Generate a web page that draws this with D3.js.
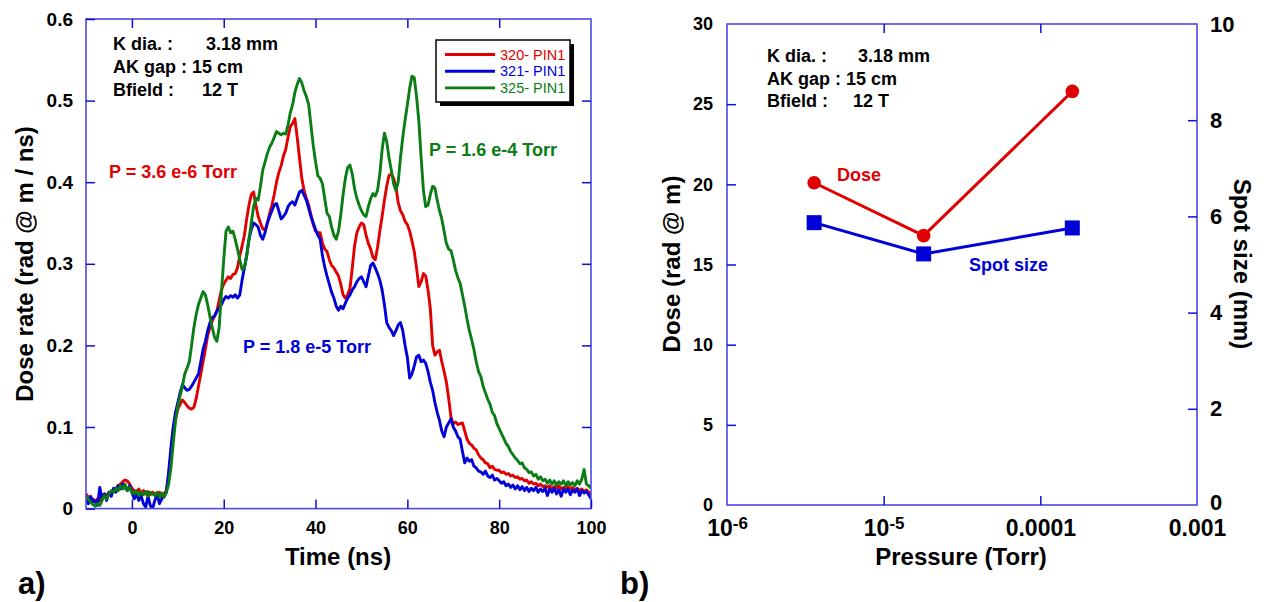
<!DOCTYPE html>
<html>
<head>
<meta charset="utf-8">
<script src="https://cdn.jsdelivr.net/npm/d3@7"></script>
<style>
  body { margin: 0; background: #fff; }
  svg { font-family: "Liberation Sans", Arial, Helvetica, sans-serif; }
</style>
</head>
<body>
<div id="chart"></div>
<script>
// ---- panel a) : PIN diode dose rate traces ----
const timeNs = d3.range(-10, 100.001, 0.5);

const pin320 = [
  0.018,0.014,0.010,0.012,0.008,0.012,0.010,0.015,0.018,0.016,
  0.020,0.018,0.022,0.025,0.028,0.030,0.033,0.035,0.034,0.030,
  0.025,0.022,0.020,0.024,0.019,0.022,0.018,0.021,0.017,0.020,
  0.018,0.016,0.020,0.015,0.018,0.022,0.040,0.065,0.090,0.110,
  0.122,0.128,0.133,0.130,0.126,0.123,0.122,0.124,0.135,0.150,
  0.165,0.180,0.195,0.212,0.222,0.230,0.236,0.242,0.255,0.268,
  0.275,0.280,0.284,0.282,0.287,0.288,0.295,0.310,0.322,0.335,
  0.355,0.372,0.385,0.388,0.372,0.358,0.350,0.343,0.341,0.350,
  0.362,0.372,0.385,0.400,0.412,0.420,0.432,0.440,0.455,0.468,
  0.472,0.478,0.455,0.430,0.405,0.390,0.380,0.372,0.360,0.348,
  0.340,0.338,0.338,0.325,0.318,0.315,0.305,0.298,0.295,0.290,
  0.285,0.275,0.262,0.258,0.262,0.270,0.295,0.322,0.338,0.345,
  0.350,0.348,0.335,0.325,0.318,0.308,0.305,0.320,0.340,0.358,
  0.378,0.395,0.408,0.410,0.405,0.395,0.375,0.365,0.360,0.352,
  0.348,0.340,0.328,0.315,0.295,0.272,0.278,0.288,0.285,0.268,
  0.245,0.200,0.188,0.192,0.194,0.180,0.168,0.155,0.135,0.112,
  0.104,0.106,0.103,0.104,0.105,0.095,0.085,0.080,0.078,0.074,
  0.072,0.066,0.062,0.060,0.056,0.055,0.050,0.052,0.048,0.047,
  0.047,0.044,0.045,0.042,0.043,0.040,0.041,0.038,0.039,0.036,
  0.037,0.034,0.035,0.031,0.033,0.030,0.031,0.028,0.030,0.027,
  0.028,0.026,0.028,0.024,0.027,0.025,0.028,0.024,0.026,0.025,
  0.027,0.024,0.026,0.023,0.025,0.022,0.024,0.021,0.023,0.020,
  0.018
];

const pin321 = [
  0.012,0.006,0.015,0.008,0.010,0.004,0.026,0.012,0.018,0.010,
  0.020,0.015,0.025,0.020,0.028,0.024,0.030,0.026,0.022,0.028,
  0.020,0.012,0.018,0.010,0.016,0.006,0.002,0.015,0.004,0.000,
  0.010,0.018,0.006,0.012,0.015,0.020,0.045,0.075,0.100,0.118,
  0.130,0.142,0.152,0.148,0.145,0.146,0.150,0.155,0.160,0.165,
  0.180,0.195,0.205,0.218,0.228,0.234,0.236,0.242,0.246,0.250,
  0.256,0.260,0.258,0.261,0.259,0.262,0.258,0.262,0.280,0.295,
  0.310,0.330,0.342,0.350,0.348,0.345,0.335,0.330,0.338,0.350,
  0.358,0.365,0.372,0.374,0.365,0.355,0.358,0.362,0.370,0.374,
  0.376,0.372,0.380,0.388,0.390,0.384,0.378,0.368,0.358,0.350,
  0.342,0.335,0.330,0.310,0.296,0.285,0.275,0.265,0.258,0.248,
  0.243,0.248,0.245,0.252,0.258,0.262,0.268,0.272,0.278,0.282,
  0.284,0.278,0.272,0.285,0.298,0.301,0.295,0.288,0.280,0.268,
  0.250,0.228,0.222,0.218,0.212,0.218,0.225,0.228,0.218,0.200,
  0.185,0.160,0.165,0.175,0.186,0.188,0.180,0.182,0.178,0.168,
  0.155,0.145,0.130,0.118,0.108,0.095,0.088,0.100,0.105,0.110,
  0.100,0.095,0.088,0.085,0.070,0.056,0.062,0.058,0.060,0.052,
  0.050,0.046,0.045,0.042,0.046,0.040,0.038,0.041,0.035,0.037,
  0.034,0.031,0.033,0.028,0.030,0.026,0.029,0.024,0.028,0.023,
  0.027,0.022,0.026,0.021,0.025,0.022,0.026,0.020,0.024,0.021,
  0.025,0.016,0.024,0.020,0.025,0.018,0.023,0.015,0.024,0.020,
  0.024,0.017,0.023,0.020,0.024,0.016,0.022,0.019,0.021,0.017,
  0.012
];

const pin325 = [
  0.015,0.012,0.008,0.005,0.003,0.006,0.004,0.010,0.016,0.012,
  0.018,0.022,0.020,0.025,0.022,0.028,0.024,0.030,0.022,0.026,
  0.020,0.018,0.022,0.016,0.020,0.017,0.021,0.015,0.020,0.018,
  0.016,0.020,0.014,0.019,0.014,0.020,0.030,0.050,0.080,0.108,
  0.125,0.138,0.150,0.165,0.172,0.180,0.200,0.222,0.238,0.250,
  0.258,0.266,0.262,0.250,0.235,0.222,0.210,0.205,0.222,0.265,
  0.305,0.340,0.345,0.338,0.340,0.330,0.318,0.305,0.293,0.295,
  0.310,0.330,0.350,0.370,0.380,0.378,0.395,0.415,0.425,0.435,
  0.443,0.448,0.455,0.462,0.460,0.458,0.460,0.459,0.470,0.485,
  0.495,0.510,0.520,0.527,0.522,0.512,0.505,0.495,0.470,0.445,
  0.425,0.408,0.405,0.398,0.380,0.362,0.358,0.345,0.335,0.330,
  0.340,0.360,0.385,0.405,0.418,0.421,0.410,0.392,0.380,0.372,
  0.365,0.360,0.358,0.370,0.380,0.386,0.383,0.390,0.410,0.440,
  0.460,0.450,0.430,0.415,0.398,0.390,0.400,0.430,0.455,0.476,
  0.495,0.515,0.530,0.528,0.505,0.475,0.430,0.390,0.370,0.372,
  0.385,0.395,0.393,0.378,0.365,0.355,0.340,0.325,0.318,0.316,
  0.305,0.292,0.283,0.276,0.262,0.248,0.232,0.218,0.207,0.195,
  0.180,0.168,0.162,0.150,0.142,0.134,0.128,0.118,0.114,0.104,
  0.098,0.092,0.086,0.080,0.076,0.070,0.066,0.062,0.059,0.055,
  0.056,0.050,0.048,0.044,0.045,0.040,0.042,0.036,0.039,0.034,
  0.036,0.031,0.035,0.030,0.034,0.029,0.033,0.030,0.034,0.028,
  0.033,0.029,0.032,0.028,0.034,0.030,0.036,0.048,0.030,0.028,
  0.025
];

const shotNames = ["320- PIN1", "321- PIN1", "325- PIN1"];
const shotColors = ["#e00000", "#0000d8", "#0a7d14"];
const shotPressures = ["P = 3.6 e-6 Torr", "P = 1.8 e-5 Torr", "P = 1.6 e-4 Torr"];
const timeTicks = [0, 20, 40, 60, 80, 100];
const rateTicks = [0, 0.1, 0.2, 0.3, 0.4, 0.5, 0.6];

// ---- panel b) : dose and spot size vs pressure ----
const pressureTorr = [3.6e-6, 1.8e-5, 1.6e-4];
const doseRadM = [20.1, 16.8, 25.8];
const spotSizeMm = [5.87, 5.22, 5.76];
const pressureTicks = [1e-6, 1e-5, 1e-4, 1e-3];
const pressureTickLabels = [["10", "-6"], ["10", "-5"], ["0.0001"], ["0.001"]];
const doseTicks = [0, 5, 10, 15, 20, 25, 30];
const spotTicks = [0, 2, 4, 6, 8, 10];

const setupLines = [["K dia. :", "3.18 mm"], ["AK gap : 15 cm", ""], ["Bfield :", "12 T"]];

const W = 1268, H = 602;
const frameColor = "#4a4ae6";

const svg = d3.select("#chart").append("svg")
  .attr("width", W).attr("height", H);

// helper: inward ticks, no domain line
function styleAxis(g) {
  g.select(".domain").remove();
  g.selectAll(".tick line").attr("stroke", "#1010d0").attr("stroke-width", 1.5);
  g.selectAll(".tick text")
    .attr("fill", "#000")
    .style("font-weight", "bold");
}

// ================= panel a =================
const a = { left: 86, right: 591, top: 19, bottom: 508.6 };
const x = d3.scaleLinear().domain([-10, 100]).range([a.left, a.right]);
const y = d3.scaleLinear().domain([0, 0.6]).range([a.bottom, a.top]);

svg.append("defs").append("clipPath").attr("id", "clipA")
  .append("rect").attr("x", a.left).attr("y", a.top)
  .attr("width", a.right - a.left).attr("height", a.bottom - a.top);

const gA = svg.append("g");

// traces
const series = [pin320, pin321, pin325];
const line = d3.line()
  .x((d, i) => x(timeNs[i]))
  .y(d => y(d));

gA.append("g").attr("clip-path", "url(#clipA)")
  .selectAll("path")
  .data(series)
  .join("path")
  .attr("d", d => line(d))
  .attr("fill", "none")
  .attr("stroke", (d, i) => shotColors[i])
  .attr("stroke-width", 2.9)
  .attr("stroke-linejoin", "round");

// frame
gA.append("rect")
  .attr("x", a.left).attr("y", a.top)
  .attr("width", a.right - a.left).attr("height", a.bottom - a.top)
  .attr("fill", "none").attr("stroke", frameColor).attr("stroke-width", 1.6);

gA.append("g").attr("transform", `translate(0,${a.bottom})`)
  .call(d3.axisBottom(x).tickValues(timeTicks).tickSize(-9).tickPadding(13).tickFormat(d3.format("d")))
  .call(styleAxis)
  .call(g => g.selectAll("text").style("font-size", "18px"));
gA.append("g").attr("transform", `translate(0,${a.top})`)
  .call(d3.axisTop(x).tickValues(timeTicks.slice(0, -1)).tickSize(-9).tickFormat(""))
  .call(styleAxis);
gA.append("g").attr("transform", `translate(${a.left},0)`)
  .call(d3.axisLeft(y).tickValues(rateTicks).tickSize(-9).tickPadding(13).tickFormat(d => d === 0 ? "0" : d3.format(".1f")(d)))
  .call(styleAxis)
  .call(g => g.selectAll("text").style("font-size", "19px"));
gA.append("g").attr("transform", `translate(${a.right},0)`)
  .call(d3.axisRight(y).tickValues(rateTicks.slice(1, -1)).tickSize(-9).tickFormat(""))
  .call(styleAxis);

// axis titles
gA.append("text")
  .attr("x", 338).attr("y", 565)
  .attr("text-anchor", "middle")
  .style("font-size", "24px").style("font-weight", "bold")
  .text("Time (ns)");
gA.append("text")
  .attr("transform", "translate(33,264) rotate(-90)")
  .attr("text-anchor", "middle")
  .style("font-size", "24px").style("font-weight", "bold")
  .text("Dose rate (rad @ m / ns)");

// setup text
setupLines.forEach((row, i) => {
  gA.append("text").attr("x", 113).attr("y", 50 + i * 23)
    .style("font-size", "18px").style("font-weight", "bold").text(row[0]);
  if (row[1]) {
    gA.append("text").attr("x", i === 0 ? 206 : 202).attr("y", 50 + i * 23)
      .style("font-size", "18px").style("font-weight", "bold").text(row[1]);
  }
});

// pressure annotations
const annPos = [[109, 178], [243, 353], [429, 156]];
shotPressures.forEach((t, i) => {
  gA.append("text").attr("x", annPos[i][0]).attr("y", annPos[i][1])
    .attr("fill", shotColors[i])
    .style("font-size", "18px").style("font-weight", "bold")
    .text(t);
});

// legend
const lg = gA.append("g").attr("transform", "translate(436,40)");
lg.append("rect").attr("x", 4).attr("y", 4).attr("width", 134).attr("height", 62).attr("fill", "#000");
lg.append("rect").attr("width", 134).attr("height", 62)
  .attr("fill", "#fff").attr("stroke", "#000").attr("stroke-width", 1.5);
shotNames.forEach((n, i) => {
  const yy = 14.5 + i * 16.7;
  lg.append("line").attr("x1", 9).attr("x2", 59).attr("y1", yy).attr("y2", yy)
    .attr("stroke", shotColors[i]).attr("stroke-width", 2.9);
  lg.append("text").attr("x", 64).attr("y", yy + 5)
    .attr("fill", shotColors[i]).style("font-size", "14.5px")
    .text(n);
});

svg.append("text").attr("x", 18).attr("y", 594)
  .style("font-size", "31px").style("font-weight", "bold").text("a)");

// ================= panel b =================
const b = { left: 727, right: 1197, top: 24, bottom: 505 };
const px = d3.scaleLog().domain([1e-6, 1e-3]).range([b.left, b.right]);
const yDose = d3.scaleLinear().domain([0, 30]).range([b.bottom, b.top]);
const ySpot = d3.scaleLinear().domain([0, 10]).range([b.bottom, b.top]);

const gB = svg.append("g");

gB.append("rect")
  .attr("x", b.left).attr("y", b.top)
  .attr("width", b.right - b.left).attr("height", b.bottom - b.top)
  .attr("fill", "none").attr("stroke", frameColor).attr("stroke-width", 1.6);

const xb = gB.append("g").attr("transform", `translate(0,${b.bottom})`)
  .call(d3.axisBottom(px).tickValues(pressureTicks).tickSize(-9).tickPadding(15).tickFormat(""))
  .call(styleAxis);
xb.selectAll(".tick").filter((d, i) => i === 0 || i === 3).select("line").remove();
xb.selectAll(".tick text").each(function (d, i) {
  const t = d3.select(this).style("font-size", "23px");
  const lab = pressureTickLabels[i];
  t.append("tspan").text(lab[0]);
  if (lab[1]) t.append("tspan").attr("dy", "-0.45em").style("font-size", "17px").text(lab[1]);
});

gB.append("g").attr("transform", `translate(0,${b.top})`)
  .call(d3.axisTop(px).tickValues(pressureTicks.slice(1, 3)).tickSize(-9).tickFormat(""))
  .call(styleAxis);
gB.append("g").attr("transform", `translate(${b.left},0)`)
  .call(d3.axisLeft(yDose).tickValues(doseTicks).tickSize(-9).tickPadding(14))
  .call(styleAxis)
  .call(g => g.selectAll("text").style("font-size", "18px"))
  .call(g => g.selectAll(".tick").filter(d => d === 0 || d === 30).select("line").remove());
gB.append("g").attr("transform", `translate(${b.right},0)`)
  .call(d3.axisRight(ySpot).tickValues(spotTicks).tickSize(-9).tickPadding(13))
  .call(styleAxis)
  .call(g => g.selectAll("text").style("font-size", "22px"))
  .call(g => g.selectAll(".tick").filter(d => d === 0 || d === 10).select("line").remove())
  .call(g => g.selectAll(".tick").filter(d => d === 0).select("text").attr("dy", "0.2em"));

// dose series
const doseLine = d3.line().x((d, i) => px(pressureTorr[i])).y(d => yDose(d));
gB.append("path").attr("d", doseLine(doseRadM))
  .attr("fill", "none").attr("stroke", "#e00000").attr("stroke-width", 3);
gB.selectAll(".dosePt").data(doseRadM).join("circle")
  .attr("cx", (d, i) => px(pressureTorr[i])).attr("cy", d => yDose(d))
  .attr("r", 6.8).attr("fill", "#e00000");

// spot size series
const spotLine = d3.line().x((d, i) => px(pressureTorr[i])).y(d => ySpot(d));
gB.append("path").attr("d", spotLine(spotSizeMm))
  .attr("fill", "none").attr("stroke", "#0000d8").attr("stroke-width", 3);
gB.selectAll(".spotPt").data(spotSizeMm).join("rect")
  .attr("x", (d, i) => px(pressureTorr[i]) - 7.5).attr("y", d => ySpot(d) - 7.5)
  .attr("width", 15).attr("height", 15).attr("fill", "#0000d8");

gB.append("text").attr("x", 837).attr("y", 181).attr("fill", "#e00000")
  .style("font-size", "18px").style("font-weight", "bold").text("Dose");
gB.append("text").attr("x", 969).attr("y", 271).attr("fill", "#0000d8")
  .style("font-size", "18px").style("font-weight", "bold").text("Spot size");

setupLines.forEach((row, i) => {
  gB.append("text").attr("x", 767).attr("y", 62 + i * 22.5)
    .style("font-size", "18px").style("font-weight", "bold").text(row[0]);
  if (row[1]) {
    gB.append("text").attr("x", i === 0 ? 858 : 853).attr("y", 62 + i * 22.5)
      .style("font-size", "18px").style("font-weight", "bold").text(row[1]);
  }
});

gB.append("text").attr("x", 961).attr("y", 565).attr("text-anchor", "middle")
  .style("font-size", "24px").style("font-weight", "bold").text("Pressure (Torr)");
gB.append("text").attr("transform", "translate(680,264) rotate(-90)")
  .attr("text-anchor", "middle")
  .style("font-size", "24px").style("font-weight", "bold").text("Dose (rad @ m)");
gB.append("text").attr("transform", "translate(1234,264) rotate(90)")
  .attr("text-anchor", "middle")
  .style("font-size", "24px").style("font-weight", "bold").text("Spot size (mm)");

svg.append("text").attr("x", 620).attr("y", 594)
  .style("font-size", "31px").style("font-weight", "bold").text("b)");
</script>
</body>
</html>
